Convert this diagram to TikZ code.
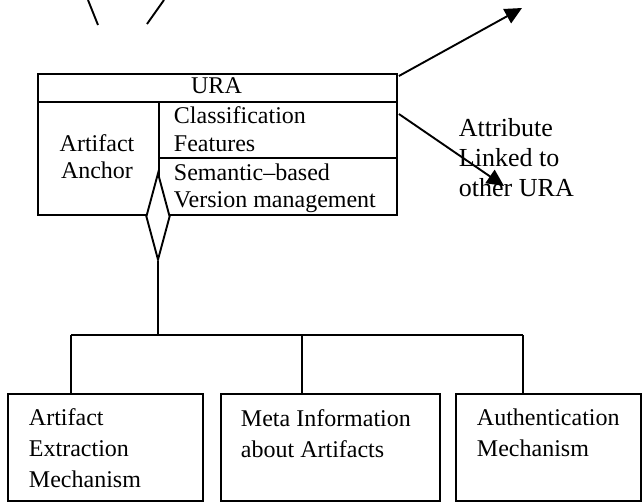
\documentclass[tikz,border=0pt]{standalone}
\usepackage{fontspec}
\setmainfont{Liberation Serif}
\usetikzlibrary{arrows.meta,shapes.geometric}
\begin{document}
\begin{tikzpicture}[x=1pt,y=-1pt,
  line width=1.9pt,
  cell/.style={draw,rectangle,inner sep=0pt,anchor=north west},
  txt/.style={inner sep=0pt,font=\fontsize{24}{28}\selectfont},
  bigtxt/.style={inner sep=0pt,font=\fontsize{26}{30}\selectfont},
  link/.style={-{Triangle[length=17pt,width=16pt]}},
  aggr/.style={draw,diamond,fill=white,inner sep=0pt,minimum width=24pt,minimum height=87pt}]
\useasboundingbox (0,0) rectangle (642,501);

% URA class box: title row, anchor column, two feature cells
\node[cell,minimum width=359pt,minimum height=28pt] (head) at (37,73) {};
\node[cell,minimum width=121pt,minimum height=113pt] (anchor) at (37,101) {};
\node[cell,minimum width=238pt,minimum height=56pt] (class) at (158,101) {};
\node[cell,minimum width=238pt,minimum height=57pt] (version) at (158,157) {};

\node[txt,anchor=base] (tura) at (216.5,93) {URA};
\node[txt,anchor=base] (tart) at (97,151) {Artifact};
\node[txt,anchor=base] (tanc) at (97,178) {Anchor};
\node[txt,anchor=base west] (tcl1) at (173,123) {Classification};
\node[txt,anchor=base west] (tcl2) at (173,151) {Features};
\node[txt,anchor=base west] (tve1) at (173,180) {Semantic--based};
\node[txt,anchor=base west] (tve2) at (173,207) {Version management};

% aggregation diamond on the lower edge of the box
\node[aggr] (agg) at (158,216.5) {};

% incoming lines at the top
\coordinate (inA) at (88,0);
\coordinate (inAend) at (98,25);
\coordinate (inB) at (164,0);
\coordinate (inBend) at (147,24);
\draw (inA) -- (inAend);
\draw (inB) -- (inBend);

% outgoing links
\coordinate (outA) at (522,8);
\coordinate (outB) at (504,186);
\draw[link] ([xshift=1pt,yshift=-3pt]head.north east) -- (outA);
\draw[link] ([xshift=1pt,yshift=-13pt]class.north east) -- (outB);

\node[bigtxt,anchor=base west] (lab1) at (458,136) {Attribute};
\node[bigtxt,anchor=base west] (lab2) at (458,166) {Linked to};
\node[bigtxt,anchor=base west] (lab3) at (458,196) {other URA};

% component boxes
\node[cell,minimum width=195pt,minimum height=107pt] (b1) at (7,393) {};
\node[cell,minimum width=219pt,minimum height=107pt] (b2) at (220,393) {};
\node[cell,minimum width=185pt,minimum height=107pt] (b3) at (455,393) {};

\node[txt,anchor=base west] (b1a) at (28,425) {Artifact};
\node[txt,anchor=base west] (b1b) at (28,456) {Extraction};
\node[txt,anchor=base west] (b1c) at (28,487) {Mechanism};
\node[txt,anchor=base west] (b2a) at (240,426) {Meta Information};
\node[txt,anchor=base west] (b2b) at (240,457) {about Artifacts};
\node[txt,anchor=base west] (b3a) at (476,425) {Authentication};
\node[txt,anchor=base west] (b3b) at (476,456) {Mechanism};

% tree connector from the diamond to the components
\coordinate (split) at (158,335);
\coordinate (j1) at (71,335);
\coordinate (j2) at (302,335);
\coordinate (j3) at (523,335);
\draw (agg.south) -- (split);
\draw (j1) -- (j3);
\draw (j1) -- (j1 |- b1.north);
\draw (j2) -- (j2 |- b2.north);
\draw (j3) -- (j3 |- b3.north);
\end{tikzpicture}
\end{document}
